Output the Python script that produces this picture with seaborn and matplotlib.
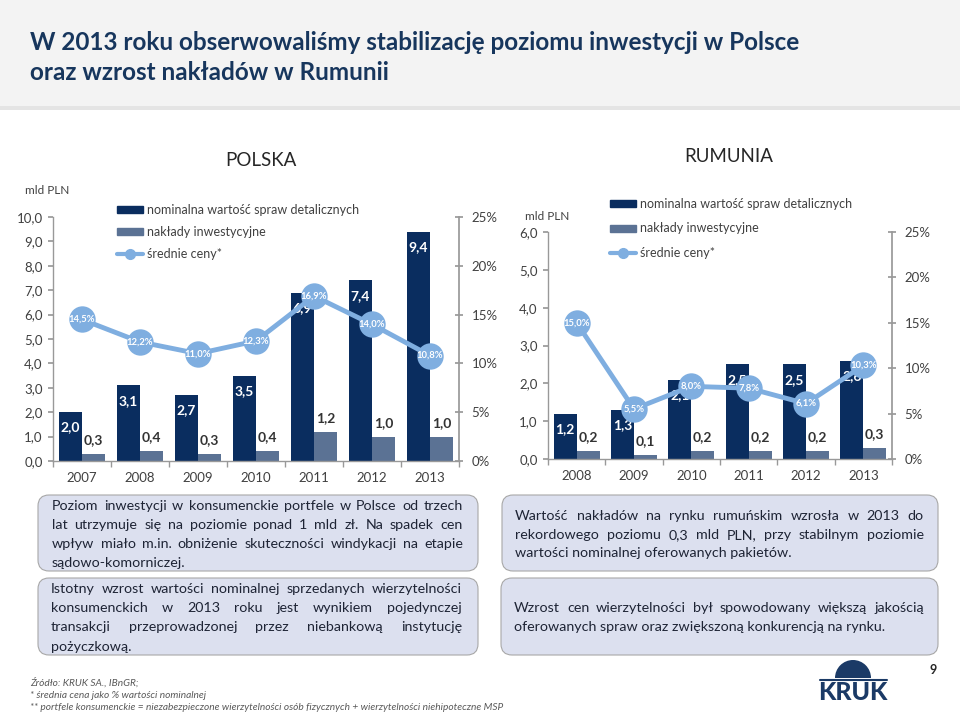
import numpy as np
import pandas as pd
import matplotlib
matplotlib.use('Agg')
import matplotlib.pyplot as plt
import seaborn as sns
from matplotlib.patches import FancyBboxPatch, Rectangle, Wedge, Patch
from matplotlib.lines import Line2D

# Dane - Polska
lata_pl = ['2007', '2008', '2009', '2010', '2011', '2012', '2013']
nominal_pl = [2.0, 3.1, 2.7, 3.5, 6.9, 7.4, 9.4]
naklady_pl = [0.3, 0.4, 0.3, 0.4, 1.2, 1.0, 1.0]
ceny_pl = [14.5, 12.2, 11.0, 12.3, 16.9, 14.0, 10.8]

# Dane - Rumunia
lata_ro = ['2008', '2009', '2010', '2011', '2012', '2013']
nominal_ro = [1.2, 1.3, 2.1, 2.5, 2.5, 2.6]
naklady_ro = [0.2, 0.1, 0.2, 0.2, 0.2, 0.3]
ceny_ro = [15.0, 5.5, 8.0, 7.8, 6.1, 10.3]

seria1 = 'nominalna wartość spraw detalicznych'
seria2 = 'nakłady inwestycyjne'
seria3 = 'średnie ceny*'

NAVY = '#0A2D5F'
SLATE = '#5B7294'
LIGHT = '#7FAEE0'
GRAY = '#999999'
TXT = '#404040'
TITLE = '#17365D'

sns.set_theme(style='white')
plt.rcParams['font.family'] = ['Lato', 'DejaVu Sans']

fig = plt.figure(figsize=(9.6, 7.19), dpi=100)

page = fig.add_axes([0, 0, 1, 1])
page.set_xlim(0, 960)
page.set_ylim(719, 0)
page.axis('off')


def fmt(v):
    return f'{v:.1f}'.replace('.', ',')


def draw_chart(rect, lata, nominal, naklady, ceny, ymax, leg_xy, leg_space):
    n = len(lata)
    ax = fig.add_axes(rect)
    ax.set_facecolor('none')
    df = pd.DataFrame({'rok': lata * 2,
                       'mld': nominal + naklady,
                       'seria': [seria1] * n + [seria2] * n})
    sns.barplot(data=df, x='rok', y='mld', hue='seria', palette=[NAVY, SLATE],
                saturation=1, width=0.8, linewidth=0, ax=ax, legend=False)
    x = np.arange(n)
    for i in range(n):
        ax.annotate(fmt(nominal[i]), (x[i] - 0.2, nominal[i]), xytext=(0, -11),
                    textcoords='offset points', ha='center', va='center',
                    color='white', fontweight='bold', fontsize=10)
        ax.annotate(fmt(naklady[i]), (x[i] + 0.2, naklady[i]), xytext=(0, 10),
                    textcoords='offset points', ha='center', va='center',
                    color='#333333', fontweight='bold', fontsize=10)
    ax.set_ylim(0, ymax)
    yt = np.arange(0, ymax + 0.01, 1)
    ax.set_yticks(yt)
    ax.set_yticklabels([fmt(v) for v in yt])
    ax.set_xlabel('')
    ax.set_ylabel('')
    for s in ['top', 'right']:
        ax.spines[s].set_visible(False)
    for s in ['left', 'bottom']:
        ax.spines[s].set_color(GRAY)
        ax.spines[s].set_linewidth(1)
    ax.tick_params(axis='y', direction='out', length=3.5, color=GRAY,
                   labelsize=9.5, labelcolor=TXT, pad=4, left=True)

    ax2 = ax.twinx()
    sns.lineplot(x=x, y=ceny, ax=ax2, color=LIGHT, lw=3.5, marker='o',
                 markersize=19, markeredgewidth=0)
    for i in range(n):
        ax2.text(x[i], ceny[i], fmt(ceny[i]) + '%', ha='center', va='center',
                 color='white', fontsize=6.8, fontweight='bold')
    ax2.set_ylim(0, 25)
    ax2.set_yticks(np.arange(0, 26, 5))
    ax2.set_yticklabels([f'{v}%' for v in range(0, 26, 5)])
    ax2.set_ylabel('')
    ax2.set_xlabel('')
    for s in ['top', 'left', 'bottom']:
        ax2.spines[s].set_visible(False)
    ax2.spines['right'].set_color(GRAY)
    ax2.tick_params(axis='y', direction='inout', length=6, color=GRAY,
                    labelsize=9.5, labelcolor=TXT, pad=6, right=True)

    # osie X ustawione na koniec, zeby lineplot ich nie ruszal
    ax.set_xlim(-0.5, n - 0.5)
    ax.set_xticks(x)
    ax.set_xticklabels(lata)
    ax.set_xticks(np.arange(-0.5, n), minor=True)
    ax.tick_params(axis='x', which='major', length=0, labelsize=9.5,
                   labelcolor=TXT, pad=8)
    ax.tick_params(axis='x', which='minor', direction='out', length=4,
                   color=GRAY, bottom=True)

    handles = [Patch(color=NAVY), Patch(color=SLATE),
               Line2D([], [], color=LIGHT, lw=3, marker='o', markersize=7)]
    ax2.legend(handles, [seria1, seria2, seria3], loc='upper left',
               bbox_to_anchor=leg_xy, bbox_transform=fig.transFigure,
               frameon=False, fontsize=9, handlelength=2.1, handleheight=0.5,
               handletextpad=0.3, labelspacing=leg_space, borderpad=0,
               borderaxespad=0, labelcolor=TXT)
    return ax, ax2


def fx(px):
    return px / 960


def fy(py):
    return 1 - py / 719


draw_chart([fx(53), fy(461), fx(459) - fx(53), fy(217) - fy(461)],
           lata_pl, nominal_pl, naklady_pl, ceny_pl, 10,
           (fx(117), fy(204)), 0.8)
draw_chart([fx(548), fy(459), fx(892) - fx(548), fy(232) - fy(459)],
           lata_ro, nominal_ro, naklady_ro, ceny_ro, 6,
           (fx(610), fy(198)), 1.0)

# Tło tytułu
page.add_patch(Rectangle((0, 0), 960, 108, fc='#F3F3F3', ec='none'))
page.add_patch(Rectangle((0, 106), 960, 4, fc='#E4E4E4', ec='none'))
page.text(30, 43, 'W 2013 roku obserwowaliśmy stabilizację poziomu inwestycji w Polsce',
          fontsize=17.5, fontweight='bold', color=TITLE, va='center')
page.text(30, 72, 'oraz wzrost nakładów w Rumunii',
          fontsize=17.5, fontweight='bold', color=TITLE, va='center')

page.text(261, 160, 'POLSKA', fontsize=13.5, color='#262626', ha='center', va='center')
page.text(729, 156, 'RUMUNIA', fontsize=13.5, color='#262626', ha='center', va='center')
page.text(25, 190, 'mld PLN', fontsize=8.5, color=TXT, va='center')
page.text(525, 216, 'mld PLN', fontsize=8.5, color=TXT, va='center')

# Ramki z komentarzem
BOX = '#DCE0EF'
for (bx, by, bw, bh) in [(38, 495, 440, 76), (38, 578, 440, 77),
                         (502, 495, 436, 76), (501, 578, 437, 77)]:
    page.add_patch(FancyBboxPatch((bx, by), bw, bh,
                                  boxstyle='round,pad=0,rounding_size=11',
                                  fc=BOX, ec='#A8A8A8', lw=0.8))

renderer = fig.canvas.get_renderer()
BOXTXT = dict(fontsize=10.3, color='#1E2435')


def justify(lines, x0, x1, ys):
    for k, (line, y) in enumerate(zip(lines, ys)):
        words = line.split()
        if k == len(lines) - 1:
            page.text(x0, y, line, ha='left', va='center', **BOXTXT)
            continue
        widths = []
        for w in words:
            t = page.text(0, 0, w, **BOXTXT)
            widths.append(t.get_window_extent(renderer).width)
            t.remove()
        gap = (x1 - x0 - sum(widths)) / (len(words) - 1)
        xx = x0
        for w, wd in zip(words, widths):
            page.text(xx, y, w, ha='left', va='center', **BOXTXT)
            xx += wd + gap


justify(['Poziom inwestycji w konsumenckie portfele w Polsce od trzech',
         'lat utrzymuje się na poziomie ponad 1 mld zł. Na spadek cen',
         'wpływ miało m.in. obniżenie skuteczności windykacji na etapie',
         'sądowo-komorniczej.'], 52, 463, [506, 525, 544, 563])
justify(['Istotny wzrost wartości nominalnej sprzedanych wierzytelności',
         'konsumenckich w 2013 roku jest wynikiem pojedynczej',
         'transakcji przeprowadzonej przez niebankową instytucję',
         'pożyczkową.'], 51, 462, [589, 608, 627, 647])
justify(['Wartość nakładów na rynku rumuńskim wzrosła w 2013 do',
         'rekordowego poziomu 0,3 mld PLN, przy stabilnym poziomie',
         'wartości nominalnej oferowanych pakietów.'], 515, 924, [516, 535, 553])
justify(['Wzrost cen wierzytelności był spowodowany większą jakością',
         'oferowanych spraw oraz zwiększoną konkurencją na rynku.'],
        514, 924, [608, 627])

# Stopka
FOOT = dict(fontsize=7.3, color='#595959', style='italic', va='center')
page.text(30, 683, 'Źródło: KRUK SA., IBnGR;', **FOOT)
page.text(30, 695, '* średnia cena jako % wartości nominalnej', **FOOT)
page.text(30, 707, '** portfele konsumenckie = niezabezpieczone wierzytelności osób '
                   'fizycznych + wierzytelności niehipoteczne MSP', **FOOT)

# Logo
page.add_patch(Wedge((853, 678), 18, 180, 360, fc='#1B3A66', ec='none'))
page.plot([820, 887], [679.5, 679.5], color='#1B3A66', lw=1.5)
page.text(853, 693, 'KRUK', fontsize=18, fontweight='black', color='#1B3A66',
          ha='center', va='center')
page.text(933, 670, '9', fontsize=9, fontweight='bold', color='#262626',
          ha='center', va='center')

fig.savefig('out.png', dpi=100)
